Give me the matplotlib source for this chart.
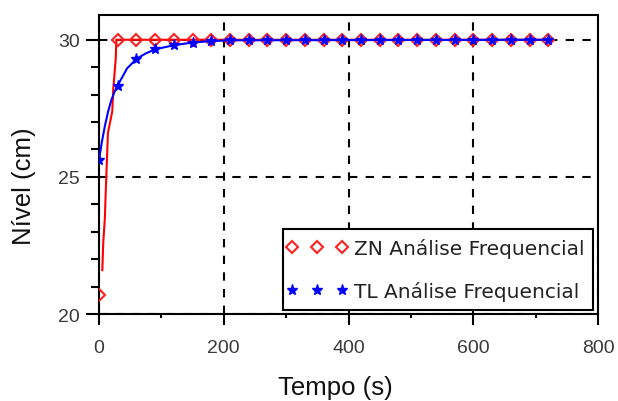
import matplotlib
matplotlib.use("Agg")
import matplotlib.pyplot as plt
from matplotlib.ticker import MultipleLocator
from matplotlib.legend_handler import HandlerLine2D

# marker samples (every 30 s)
t_markers = [0, 30, 60, 90, 120, 150, 180, 210, 240, 270, 300, 330, 360, 390,
             420, 450, 480, 510, 540, 570, 600, 630, 660, 690, 720]
zn_markers = [20.7] + [30.0] * 24
tl_markers = [25.6, 28.33, 29.3, 29.65, 29.8, 29.9, 29.95, 29.98] + [30.0] * 17

# continuous responses
zn_line_t = [5.5, 7.0, 9.6, 11.2, 13.5, 14.5, 21.5, 23.0, 27.0, 28.0, 720]
zn_line_y = [21.6, 22.6, 23.5, 24.6, 26.0, 26.6, 27.4, 28.2, 29.3, 30.0, 30.0]
tl_line_t = [0, 5, 10, 15, 20, 25, 30, 45, 60, 75, 90, 120, 150, 180, 210, 720]
tl_line_y = [25.6, 26.3, 26.9, 27.4, 27.8, 28.1, 28.33, 28.95, 29.3, 29.5, 29.65,
             29.8, 29.9, 29.95, 29.98, 30.0]

labels = ["ZN Análise Frequencial", "TL Análise Frequencial"]


def main():
    fig = plt.figure(figsize=(6.18, 4.02), dpi=100)
    ax = fig.add_axes([0.160, 0.2164, 0.808, 0.7436])

    ax.plot(zn_line_t, zn_line_y, color="#ff0000", lw=1.5, zorder=3)
    zn, = ax.plot(t_markers, zn_markers, ls="none", marker="D", ms=6, mfc="none",
                  mec="#ff2020", mew=1.5, zorder=4, label=labels[0])
    ax.plot(tl_line_t, tl_line_y, color="#0000ff", lw=1.5, zorder=5)
    tl, = ax.plot(t_markers, tl_markers, ls="none", marker="*", ms=8, color="#0000ff",
                  zorder=6, label=labels[1])

    ax.set_xlim(0, 800)
    ax.set_ylim(20, 30.9)
    ax.xaxis.set_major_locator(MultipleLocator(200))
    ax.xaxis.set_minor_locator(MultipleLocator(100))
    ax.yaxis.set_major_locator(MultipleLocator(5))
    ax.yaxis.set_minor_locator(MultipleLocator(1))

    ax.grid(True, which="major", color="black", lw=1.5, ls=(0, (4, 4)))
    for s in ax.spines.values():
        s.set_linewidth(1.5)

    ax.tick_params(axis="x", which="major", direction="out", length=8, width=1.5,
                   labelsize=14, labelcolor="#3a3a3a", pad=10)
    ax.tick_params(axis="x", which="minor", direction="out", length=3, width=1.5)
    ax.tick_params(axis="y", which="major", direction="out", length=9.4, width=1.5,
                   labelsize=14, labelcolor="#3a3a3a", pad=4.3)
    ax.tick_params(axis="y", which="minor", direction="out", length=6, width=1.5)
    for lab in ax.get_xticklabels() + ax.get_yticklabels():
        lab.set_fontfamily("Liberation Sans")

    ax.set_xlabel("Tempo (s)", fontsize=18.5, color="#111111", family="Liberation Sans")
    ax.set_ylabel("Nível (cm)", fontsize=18.5, color="#111111", family="Liberation Sans")
    ax.xaxis.set_label_coords(0.474, -0.205)
    ax.yaxis.set_label_coords(-0.125, 0.43)

    leg = ax.legend(loc="lower right", bbox_to_anchor=(0.99, 0.013), numpoints=3,
                    fontsize=14.5, frameon=True, fancybox=False, borderaxespad=0,
                    borderpad=0.45, handlelength=2.45, handletextpad=0.6,
                    labelspacing=1.15,
                    handler_map={zn: HandlerLine2D(marker_pad=0),
                                 tl: HandlerLine2D(marker_pad=0)})
    leg.get_frame().set_edgecolor("black")
    leg.get_frame().set_linewidth(1.5)
    leg.get_frame().set_alpha(1)
    for txt in leg.get_texts():
        txt.set_color("#222222")

    fig.savefig("out.png", dpi=100)
    plt.close(fig)


if __name__ == '__main__':
    main()
